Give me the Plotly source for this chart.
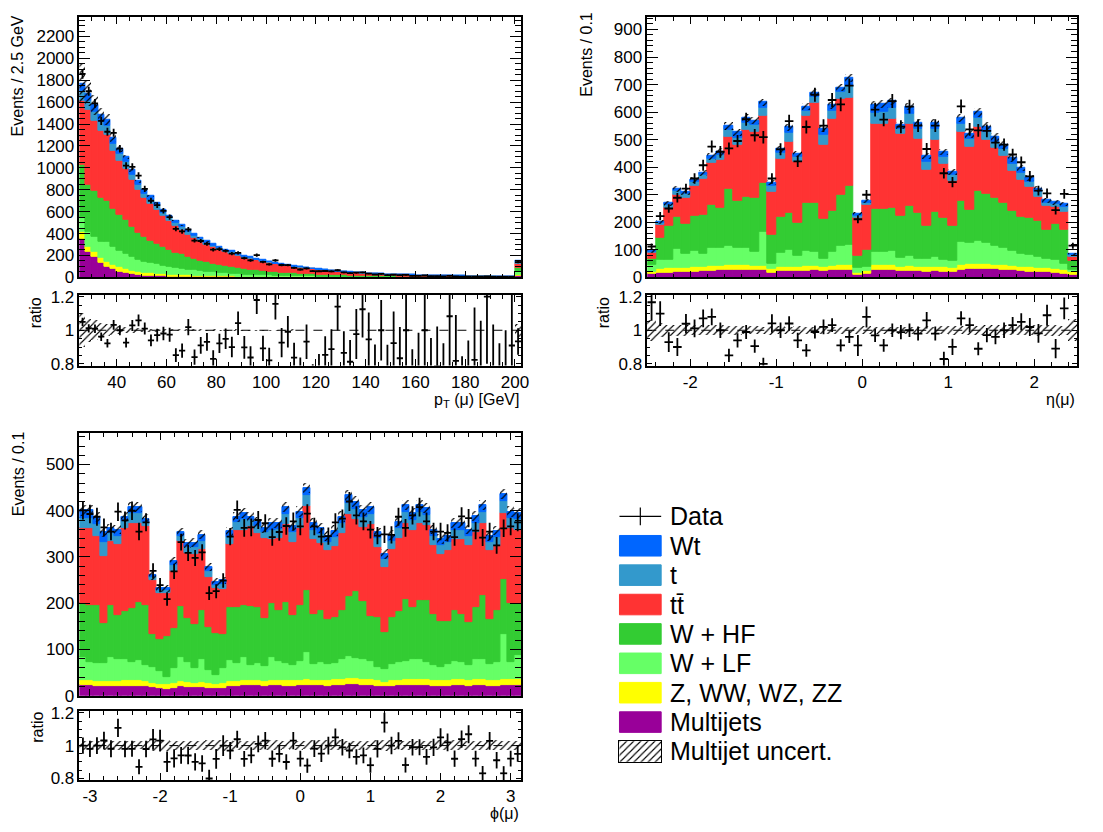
import numpy as np
import plotly.graph_objects as go

W, H = 1103, 832
FONT = "Liberation Sans, Arial, Helvetica, sans-serif"

# ---------------------------------------------------------------- samples
# stacking order, bottom to top
SAMPLES = ["mj", "z", "wlf", "whf", "tt", "t", "wt"]
COLORS = {
    "wt": "#0066ff",
    "t": "#3399cc",
    "tt": "#ff3333",
    "whf": "#33cc33",
    "wlf": "#66ff66",
    "z": "#ffff00",
    "mj": "#990099",
}
LEGEND_LABELS = ["Wt", "t", "t\u0074\u0304", "W + HF", "W + LF", "Z, WW, WZ, ZZ", "Multijets"]
LEGEND_KEYS = ["wt", "t", "tt", "whf", "wlf", "z", "mj"]
MJ_UNC = 0.5  # relative normalisation uncertainty on the multijet yield

# ---------------------------------------------------------------- muon pT (2.5 GeV bins, 25 GeV upwards, last bin = overflow)
PT_LO, PT_BW = 25.0, 2.5
PT_MJ = [354, 230, 189, 130, 100, 75, 55, 40, 30, 22,
         18, 15, 12, 10, 8, 7, 6, 5, 4, 4,
         3, 3, 2, 2, 2, 2, 1, 1, 1, 1,
         1, 1, 1, 1, 1, 0, 0, 0, 0, 0,
         0, 0, 0, 0, 0, 0, 0, 0, 0, 0,
         0, 0, 0, 0, 0, 0, 0, 0, 0, 0,
         0, 0, 0, 0, 0, 0, 0, 0, 0, 0,
         12]
PT_Z = [66, 50, 45, 45, 42, 40, 38, 36, 33, 30,
        28, 26, 24, 22, 20, 18, 17, 15, 14, 13,
        12, 11, 10, 9, 8, 7, 7, 6, 6, 5,
        5, 4, 4, 4, 3, 3, 3, 3, 2, 2,
        2, 2, 2, 2, 1, 1, 1, 1, 1, 1,
        1, 1, 1, 1, 1, 1, 0, 0, 0, 0,
        0, 0, 0, 0, 0, 0, 0, 0, 0, 0,
        10]
PT_WLF = [129, 135, 135, 150, 180, 160, 150, 140, 125, 110,
          100, 90, 85, 75, 70, 62, 58, 52, 48, 42,
          38, 33, 30, 27, 25, 22, 20, 19, 17, 16,
          14, 13, 12, 11, 10, 9, 9, 8, 7, 7,
          6, 6, 5, 5, 4, 4, 4, 3, 3, 3,
          3, 2, 2, 2, 2, 2, 2, 1, 1, 1,
          1, 1, 1, 1, 1, 1, 1, 0.5, 0.5, 0.5,
          25]
PT_WHF = [480, 435, 420, 400, 380, 355, 330, 310, 275, 245,
          225, 205, 190, 170, 155, 140, 130, 115, 105, 96,
          86, 80, 72, 65, 62, 54, 48, 46, 42, 38,
          35, 32, 29, 27, 25, 23, 21, 19, 18, 16,
          15, 13, 12, 11, 10, 9, 8, 8, 7, 6,
          6, 5, 5, 4, 4, 4, 3, 3, 3, 3,
          2, 2, 2, 2, 2, 1.5, 1.5, 1.5, 1.5, 1.5,
          40]
PT_TT = [585, 680, 640, 610, 600, 525, 490, 470, 430, 390,
         355, 340, 310, 285, 262, 245, 223, 203, 193, 177,
         163, 150, 140, 128, 121, 110, 102, 96, 90, 83,
         77, 71, 65, 60, 55, 52, 47, 44, 40, 37,
         34, 31, 28, 26, 24, 22, 20, 18, 17, 15,
         14, 13, 12, 11, 9, 8, 8, 8, 7, 6,
         6, 6, 5, 4.5, 4, 4, 3.5, 3.5, 3, 2.5,
         40]
PT_T = [90, 85, 82, 85, 80, 68, 62, 58, 48, 45,
        40, 37, 32, 32, 27, 26, 24, 22, 20, 18,
        15, 15, 14, 13, 12, 11, 10, 9, 9, 8,
        7, 7, 6, 5, 5, 5, 4, 4, 4, 3,
        3, 3, 3, 2, 3, 2, 2, 2, 2, 2,
        1, 2, 1, 1, 1, 1, 1, 1, 1, 1,
        1, 1, 1, 0.5, 0.5, 0.5, 0.5, 0.5, 0.5, 0.5,
        14]
PT_WT = [66, 65, 65, 67, 60, 56, 50, 47, 41, 36,
         34, 32, 27, 26, 23, 22, 20, 18, 16, 15,
         13, 13, 12, 11, 10, 9, 8, 8, 7, 7,
         6, 6, 5, 5, 5, 4, 4, 3, 3, 3,
         2, 2, 2, 2, 2, 2, 2, 2, 1, 1,
         1, 1, 1, 1, 1, 1, 1, 1, 1, 1,
         1, 0, 0, 0.5, 0.5, 0.5, 0.5, 0.5, 0.5, 0.5,
         9]
PT_DATA = [1858, 1700, 1590, 1430, 1330, 1320, 1175, 1020, 1010, 930,
           808, 700, 660, 608, 550, 443, 420, 438, 336, 332,
           307, 253, 258, 242, 216, 224, 176, 155, 203, 141,
           119, 155, 113, 112, 87, 72, 82, 57, 56, 58,
           55, 65, 45, 39, 43, 45, 35, 26, 31, 21,
           24, 20, 22, 14, 14, 17, 11, 11, 9, 13,
           9, 6, 6, 7, 6, 9, 5, 4, 4, 5,
           140]

# ---------------------------------------------------------------- muon eta (0.1 bins, -2.5 .. 2.5)
ETA_LO, ETA_BW = -2.5, 0.1
ETA_MJ = [12, 17, 18, 20, 20, 21, 23, 25, 26, 27,
          28, 28, 27, 26, 18, 23, 24, 23, 25, 26,
          24, 26, 27, 27, 10, 14, 27, 27, 27, 24,
          25, 24, 22, 24, 22, 20, 28, 30, 32, 32,
          30, 28, 26, 24, 22, 20, 19, 18, 14, 11]
ETA_Z = [8, 14, 15, 16, 16, 16, 16, 17, 17, 17,
         17, 17, 16, 16, 12, 15, 16, 15, 16, 16,
         15, 16, 17, 17, 8, 9, 17, 17, 17, 15,
         16, 15, 15, 15, 15, 14, 18, 18, 18, 18,
         17, 17, 16, 16, 15, 14, 14, 13, 12, 8]
ETA_WLF = [25, 31, 32, 68, 50, 61, 47, 67, 63, 71,
           64, 64, 51, 123, 21, 51, 61, 42, 57, 52,
           29, 50, 71, 74, 15, 16, 50, 48, 54, 32,
           37, 29, 29, 35, 25, 25, 83, 79, 83, 75,
           68, 61, 56, 46, 45, 40, 35, 31, 25, 8]
ETA_WHF = [23, 81, 123, 117, 109, 127, 141, 153, 148, 206,
           169, 183, 195, 180, 105, 132, 134, 118, 174, 177,
           144, 150, 185, 215, 47, 62, 156, 156, 156, 153,
           181, 165, 120, 165, 153, 127, 149, 118, 180, 179,
           174, 165, 144, 135, 133, 133, 103, 133, 123, 33]
ETA_TT = [20, 49, 66, 80, 95, 108, 131, 153, 173, 189,
          202, 243, 239, 243, 156, 210, 259, 223, 313, 362,
          268, 333, 348, 319, 135, 161, 306, 308, 320, 297,
          297, 271, 203, 262, 197, 165, 249, 229, 232, 197,
          182, 171, 144, 135, 114, 87, 88, 61, 65, 16]
ETA_T = [5, 6, 9, 12, 12, 13, 13, 15, 17, 24,
         28, 27, 25, 29, 20, 20, 31, 16, 21, 22,
         36, 30, 25, 44, 10, 10, 43, 44, 40, 19,
         38, 35, 31, 37, 26, 20, 32, 28, 33, 28,
         23, 24, 28, 25, 19, 16, 13, 11, 17, 5]
ETA_WT = [3, 4, 6, 8, 8, 9, 9, 10, 12, 16,
          19, 18, 17, 19, 13, 14, 20, 11, 14, 15,
          24, 20, 17, 29, 7, 6, 29, 30, 26, 13,
          26, 23, 20, 24, 18, 13, 21, 19, 22, 19,
          15, 16, 19, 17, 12, 11, 8, 7, 12, 4]
ETA_DATA = [112, 222, 250, 289, 322, 359, 407, 475, 456, 468,
            495, 574, 516, 509, 359, 465, 567, 421, 546, 663,
            551, 644, 628, 696, 211, 300, 609, 573, 640, 547,
            620, 551, 466, 551, 378, 346, 621, 537, 534, 532,
            489, 482, 446, 418, 367, 315, 305, 244, 303, 115]

# ---------------------------------------------------------------- muon phi (0.1 bins, -3.15 .. 3.15)
PHI_LO, PHI_BW = -3.15, 0.1
PHI_MJ = [23, 22, 21, 21, 20, 21, 21, 21, 21, 20,
          18, 16, 15, 17, 20, 19, 18, 19, 17, 16,
          17, 21, 21, 22, 22, 22, 21, 22, 22, 21,
          21, 22, 23, 22, 22, 21, 22, 23, 24, 24,
          23, 22, 21, 20, 21, 22, 23, 23, 23, 22,
          21, 21, 21, 22, 22, 21, 22, 22, 21, 21,
          23, 22, 23]
PHI_Z = [11, 11, 11, 11, 11, 11, 12, 12, 12, 11,
         10, 9, 9, 10, 11, 10, 10, 11, 10, 9,
         10, 11, 11, 12, 11, 11, 11, 12, 12, 12,
         12, 12, 12, 12, 12, 12, 13, 13, 14, 14,
         13, 13, 12, 10, 12, 12, 13, 13, 13, 13,
         12, 12, 12, 13, 13, 12, 13, 13, 12, 13,
         13, 13, 13]
PHI_WLF = [49, 40, 39, 39, 52, 48, 45, 40, 43, 35,
           34, 27, 17, 32, 52, 44, 31, 50, 29, 19,
           32, 44, 39, 49, 33, 38, 32, 49, 41, 37,
           32, 41, 59, 34, 38, 35, 35, 44, 47, 44,
           42, 40, 29, 28, 35, 38, 39, 44, 42, 37,
           32, 29, 35, 40, 37, 32, 45, 43, 35, 38,
           97, 38, 51]
PHI_WHF = [117, 123, 125, 86, 113, 95, 104, 116, 127, 130,
           71, 70, 88, 88, 110, 95, 95, 106, 92, 92,
           74, 115, 120, 113, 128, 120, 104, 117, 111, 133,
           110, 121, 134, 109, 112, 97, 99, 106, 131, 145,
           127, 97, 107, 80, 101, 110, 134, 111, 129, 135,
           112, 100, 94, 109, 105, 95, 111, 140, 98, 114,
           120, 127, 113]
PHI_TT = [162, 166, 150, 145, 138, 152, 180, 184, 170, 170,
          116, 99, 92, 123, 141, 141, 152, 130, 108, 96,
          97, 136, 168, 163, 172, 161, 173, 138, 154, 168,
          158, 166, 181, 161, 145, 149, 155, 166, 177, 154,
          159, 199, 152, 140, 147, 159, 165, 167, 167, 161,
          149, 145, 152, 154, 161, 166, 162, 156, 148, 138,
          143, 162, 159]
PHI_T = [23, 23, 25, 31, 17, 19, 15, 21, 21, 10,
         7, 7, 7, 13, 11, 12, 15, 19, 13, 8,
         11, 17, 17, 22, 13, 14, 13, 21, 20, 22,
         20, 22, 24, 21, 20, 19, 20, 21, 24, 23,
         22, 22, 19, 17, 19, 21, 23, 22, 23, 22,
         20, 19, 19, 21, 21, 20, 21, 23, 19, 20,
         24, 22, 22]
PHI_WT = [16, 16, 16, 20, 11, 13, 10, 14, 14, 7,
          4, 4, 4, 9, 8, 8, 10, 13, 9, 6,
          8, 11, 11, 14, 8, 10, 8, 14, 13, 15,
          13, 14, 16, 14, 13, 12, 13, 14, 16, 15,
          15, 15, 13, 11, 13, 14, 15, 14, 15, 15,
          13, 12, 12, 14, 14, 13, 14, 15, 12, 13,
          16, 14, 14]
PHI_DATA = [401, 393, 387, 364, 355, 398, 379, 400, 355, 375,
            270, 239, 209, 269, 332, 309, 298, 310, 222, 226,
            249, 344, 402, 363, 364, 380, 373, 343, 354, 367,
            377, 366, 394, 366, 344, 345, 375, 383, 420, 390,
            377, 359, 346, 349, 348, 387, 363, 390, 408, 377,
            355, 355, 352, 343, 388, 384, 357, 342, 355, 325,
            362, 366, 375]

# ---------------------------------------------------------------- layout geometry (page pixels)
LEFT_X = (80, 525)
RIGHT_X = (652, 1085)
TOP_MAIN_Y = (10, 276)
TOP_RATIO_Y = (294, 366)
BOT_MAIN_Y = (435, 703)
BOT_RATIO_Y = (719, 789)

TICK_SIZE = 17
TITLE_SIZE = 16
LEGEND_SIZE = 25


def px(x):
    return x / W


def py(y):
    return 1 - y / H


def xdom(r):
    return [px(r[0]), px(r[1])]


def ydom(r):
    return [py(r[1]), py(r[0])]


fig = go.Figure()

HATCH = dict(shape="/", fgcolor="black", bgcolor="rgba(0,0,0,0)",
             size=5, solidity=0.22, fillmode="replace")


def add_panel(comps, data, lo, bw, main_ax, ratio_ax):
    data = np.asarray(data, float)
    n = len(data)
    centers = lo + bw * (np.arange(n) + 0.5)
    xm, ym = main_ax
    xr, yr = ratio_ax
    base = np.zeros(n)
    for key in SAMPLES:
        vals = np.asarray(comps[key], float)
        fig.add_bar(x=centers, y=vals, base=base, width=bw,
                    marker=dict(color=COLORS[key], line=dict(width=1.0, color=COLORS[key])),
                    xaxis=xm, yaxis=ym, showlegend=False, hoverinfo="skip")
        base = base + vals
    total = base
    unc = MJ_UNC * np.asarray(comps["mj"], float)
    fig.add_bar(x=centers, y=2 * unc, base=total - unc, width=bw,
                marker=dict(color="rgba(0,0,0,0)", pattern=HATCH, line=dict(width=0)),
                xaxis=xm, yaxis=ym, showlegend=False, hoverinfo="skip")
    err_style = dict(type="data", width=0, thickness=1.8, color="black")
    fig.add_scatter(x=centers, y=data, mode="markers",
                    marker=dict(size=1, color="black"),
                    error_x=dict(array=np.full(n, bw / 2), **err_style),
                    error_y=dict(array=np.sqrt(data), **err_style),
                    xaxis=xm, yaxis=ym, showlegend=False, hoverinfo="skip")
    # ratio pad
    rel = np.where(total > 0, unc / np.where(total > 0, total, 1), 0)
    fig.add_bar(x=centers, y=2 * rel, base=1 - rel, width=bw,
                marker=dict(color="rgba(0,0,0,0)", pattern=HATCH, line=dict(width=0)),
                xaxis=xr, yaxis=yr, showlegend=False, hoverinfo="skip")
    ratio = data / total
    rerr = np.sqrt(data) / total
    fig.add_scatter(x=centers, y=ratio, mode="markers",
                    marker=dict(size=1, color="black"),
                    error_x=dict(array=np.full(n, bw / 2), **err_style),
                    error_y=dict(array=rerr, **err_style),
                    xaxis=xr, yaxis=yr, showlegend=False, hoverinfo="skip")
    fig.add_shape(type="line", x0=lo, x1=lo + bw * n, y0=1, y1=1,
                  xref=xr, yref=yr,
                  line=dict(color="black", width=1, dash="dash"), layer="above")
    return lo + bw * n


pt_hi = add_panel(dict(mj=PT_MJ, z=PT_Z, wlf=PT_WLF, whf=PT_WHF, tt=PT_TT, t=PT_T, wt=PT_WT),
                  PT_DATA, PT_LO, PT_BW, ("x", "y"), ("x2", "y2"))
eta_hi = add_panel(dict(mj=ETA_MJ, z=ETA_Z, wlf=ETA_WLF, whf=ETA_WHF, tt=ETA_TT, t=ETA_T, wt=ETA_WT),
                   ETA_DATA, ETA_LO, ETA_BW, ("x3", "y3"), ("x4", "y4"))
phi_hi = add_panel(dict(mj=PHI_MJ, z=PHI_Z, wlf=PHI_WLF, whf=PHI_WHF, tt=PHI_TT, t=PHI_T, wt=PHI_WT),
                   PHI_DATA, PHI_LO, PHI_BW, ("x5", "y5"), ("x6", "y6"))

TICKFONT = dict(family=FONT, size=TICK_SIZE, color="black")


def axis(domain, rng, anchor, ticklen, minor_len, show_labels, **kw):
    d = dict(domain=domain, range=rng, anchor=anchor,
             showline=True, linecolor="black", linewidth=1.5, mirror="ticks",
             ticks="inside", ticklen=ticklen, tickwidth=1.3, tickcolor="black",
             showgrid=False, zeroline=False, showticklabels=show_labels,
             tickfont=TICKFONT, fixedrange=True)
    d.update(kw)
    d["minor"] = dict(ticks="inside", ticklen=minor_len, tickwidth=1.1,
                      tickcolor="black", showgrid=False, **d.pop("minor_kw"))
    return d


PT_TICKS = [40, 60, 80, 100, 120, 140, 160, 180, 200]
ETA_TICKS = [-2, -1, 0, 1, 2]
PHI_TICKS = [-3, -2, -1, 0, 1, 2, 3]


def signed(vals):
    return [str(v) for v in vals]


RATIO_RANGE = [0.79, 1.21]
ratio_y = dict(tickmode="array", tickvals=[0.8, 1.0, 1.2], ticktext=["0.8", "1", "1.2"],
               minor_kw=dict(tickmode="linear", tick0=0.8, dtick=0.05))

layout_axes = dict(
    # pT
    xaxis=axis(xdom(LEFT_X), [PT_LO, pt_hi], "y", 7, 4, False,
               tickmode="array", tickvals=PT_TICKS,
               minor_kw=dict(tickmode="linear", tick0=0, dtick=5)),
    yaxis=axis(ydom(TOP_MAIN_Y), [0, 2380], "x", 11, 6, True,
               tickmode="linear", tick0=0, dtick=200, tickformat="d",
               minor_kw=dict(tickmode="linear", tick0=0, dtick=50)),
    xaxis2=axis(xdom(LEFT_X), [PT_LO, pt_hi], "y2", 7, 4, True,
                tickmode="array", tickvals=PT_TICKS, ticktext=signed(PT_TICKS),
                minor_kw=dict(tickmode="linear", tick0=0, dtick=5)),
    yaxis2=axis(ydom(TOP_RATIO_Y), RATIO_RANGE, "x2", 5, 3, True, **ratio_y),
    # eta
    xaxis3=axis(xdom(RIGHT_X), [ETA_LO, eta_hi], "y3", 7, 4, False,
                tickmode="array", tickvals=ETA_TICKS,
                minor_kw=dict(tickmode="linear", tick0=0, dtick=0.2)),
    yaxis3=axis(ydom(TOP_MAIN_Y), [0, 946], "x3", 11, 6, True,
                tickmode="linear", tick0=0, dtick=100, tickformat="d",
                minor_kw=dict(tickmode="linear", tick0=0, dtick=20)),
    xaxis4=axis(xdom(RIGHT_X), [ETA_LO, eta_hi], "y4", 7, 4, True,
                tickmode="array", tickvals=ETA_TICKS, ticktext=signed(ETA_TICKS),
                minor_kw=dict(tickmode="linear", tick0=0, dtick=0.2)),
    yaxis4=axis(ydom(TOP_RATIO_Y), RATIO_RANGE, "x4", 5, 3, True, **ratio_y),
    # phi
    xaxis5=axis(xdom(LEFT_X), [PHI_LO, phi_hi], "y5", 7, 4, False,
                tickmode="array", tickvals=PHI_TICKS,
                minor_kw=dict(tickmode="linear", tick0=0, dtick=0.2)),
    yaxis5=axis(ydom(BOT_MAIN_Y), [0, 568], "x5", 11, 6, True,
                tickmode="linear", tick0=0, dtick=100, tickformat="d",
                minor_kw=dict(tickmode="linear", tick0=0, dtick=20)),
    xaxis6=axis(xdom(LEFT_X), [PHI_LO, phi_hi], "y6", 7, 4, True,
                tickmode="array", tickvals=PHI_TICKS, ticktext=signed(PHI_TICKS),
                minor_kw=dict(tickmode="linear", tick0=0, dtick=0.2)),
    yaxis6=axis(ydom(BOT_RATIO_Y), RATIO_RANGE, "x6", 5, 3, True, **ratio_y),
)

# ---------------------------------------------------------------- axis titles
annotations = []


def label(text, x, y, size=TITLE_SIZE, angle=0, xanchor="center", yanchor="middle"):
    annotations.append(dict(text=text, x=px(x), y=py(y), xref="paper", yref="paper",
                            showarrow=False, textangle=angle, xanchor=xanchor, yanchor=yanchor,
                            font=dict(family=FONT, size=size, color="black")))


label("Events / 2.5 GeV", 18, 70, angle=-90)
label("Events / 0.1", 590, 48, angle=-90)
label("Events / 0.1", 18, 476, angle=-90)
label("ratio", 36, 312, angle=-90)
label("ratio", 608, 312, angle=-90)
label("ratio", 38, 735, angle=-90)
label("p<sub>T</sub> (\u03bc) [GeV]", 525, 402, xanchor="right")
label("\u03b7(\u03bc)", 1085, 401, xanchor="right")
label("\u03d5(\u03bc)", 525, 823, xanchor="right")

# ---------------------------------------------------------------- legend
shapes = []
LEG_X0, LEG_X1 = 624, 666
LEG_TEXT_X = 673
LEG_Y0, LEG_DY = 520, 30.0
LEG_BOX_H = 21

# data entry: horizontal bar with a vertical tick
shapes.append(dict(type="line", xref="paper", yref="paper",
                   x0=px(LEG_X0), x1=px(LEG_X1), y0=py(LEG_Y0), y1=py(LEG_Y0),
                   line=dict(color="black", width=1.2)))
shapes.append(dict(type="line", xref="paper", yref="paper",
                   x0=px((LEG_X0 + LEG_X1) / 2), x1=px((LEG_X0 + LEG_X1) / 2),
                   y0=py(LEG_Y0 - 9), y1=py(LEG_Y0 + 9),
                   line=dict(color="black", width=1.2)))
label("Data", LEG_TEXT_X, LEG_Y0, size=LEGEND_SIZE, xanchor="left")

for i, (key, text) in enumerate(zip(LEGEND_KEYS, LEGEND_LABELS), start=1):
    yc = LEG_Y0 + i * LEG_DY
    shapes.append(dict(type="rect", xref="paper", yref="paper",
                       x0=px(LEG_X0), x1=px(LEG_X1),
                       y0=py(yc + LEG_BOX_H / 2), y1=py(yc - LEG_BOX_H / 2),
                       fillcolor=COLORS[key], line=dict(color=COLORS[key], width=1)))
    label(text, LEG_TEXT_X, yc, size=LEGEND_SIZE, xanchor="left")

# hatched entry: a patterned bar on its own small axes
yc = LEG_Y0 + 8 * LEG_DY
fig.add_bar(x=[0], y=[1], width=[1], xaxis="x7", yaxis="y7",
            marker=dict(color="rgba(0,0,0,0)", pattern=HATCH, line=dict(width=0)),
            showlegend=False, hoverinfo="skip")
layout_axes["xaxis7"] = dict(domain=[px(LEG_X0), px(LEG_X1)], range=[-0.5, 0.5], anchor="y7",
                             showline=True, mirror=True, linecolor="black", linewidth=1,
                             showticklabels=False, ticks="", showgrid=False, zeroline=False,
                             fixedrange=True)
layout_axes["yaxis7"] = dict(domain=[py(yc + LEG_BOX_H / 2), py(yc - LEG_BOX_H / 2)], range=[0, 1],
                             anchor="x7", showline=True, mirror=True, linecolor="black",
                             linewidth=1, showticklabels=False, ticks="", showgrid=False,
                             zeroline=False, fixedrange=True)
label("Multijet uncert.", LEG_TEXT_X, yc, size=LEGEND_SIZE, xanchor="left")

fig.update_layout(
    width=W, height=H,
    margin=dict(l=0, r=0, t=0, b=0),
    paper_bgcolor="white", plot_bgcolor="white",
    barmode="overlay", bargap=0,
    font=dict(family=FONT, size=TICK_SIZE, color="black"),
    annotations=annotations,
    shapes=list(fig.layout.shapes) + shapes,
    showlegend=False,
    **layout_axes,
)

fig.write_html("out.html")
